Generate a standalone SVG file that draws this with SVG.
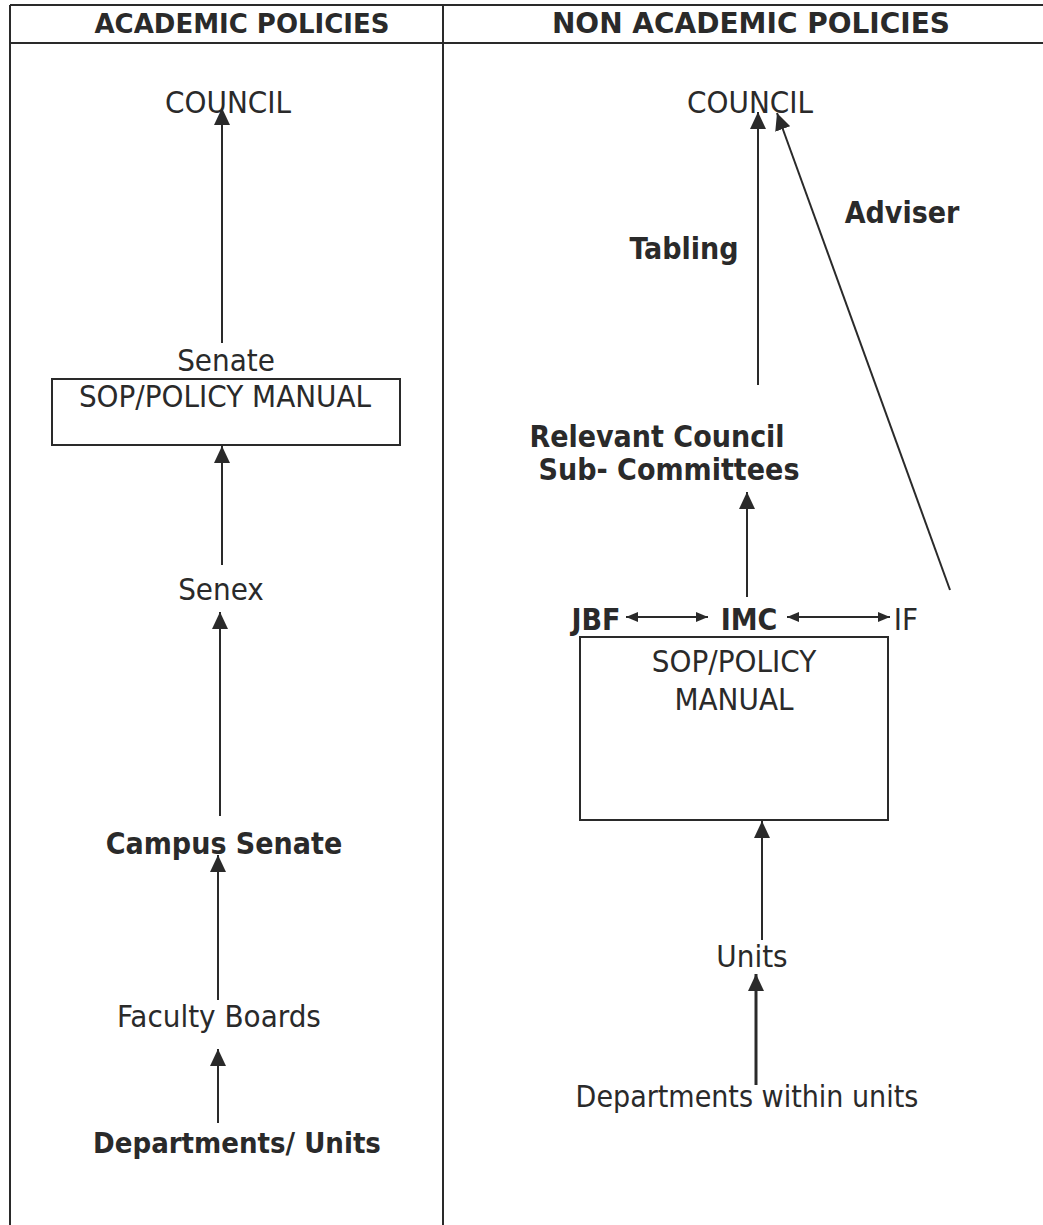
<svg xmlns="http://www.w3.org/2000/svg" width="1043" height="1225" viewBox="0 0 1043 1225">
<style>
.t{font-family:'DejaVu Sans Condensed','DejaVu Sans',sans-serif;font-stretch:condensed;font-size:31px;fill:#2a2a2a;text-anchor:middle}
.b{font-weight:bold;font-size:30px}
.h{font-family:'DejaVu Sans',sans-serif;font-stretch:normal;font-weight:bold;font-size:26px;fill:#2a2a2a;text-anchor:middle}
.ln{stroke:#2a2a2a;stroke-width:2;fill:none}
.ar{stroke:#2a2a2a;stroke-width:2;fill:none;marker-end:url(#ah)}
.da{stroke:#2a2a2a;stroke-width:2;fill:none;marker-start:url(#sm);marker-end:url(#sm)}
.bx{stroke:#2a2a2a;stroke-width:2;fill:#fff}
</style>
<defs>
<marker id="ah" viewBox="0 0 17 16" refX="17" refY="8" markerWidth="17" markerHeight="16" markerUnits="userSpaceOnUse" orient="auto"><path d="M0,0 L17,8 L0,16 z" fill="#2a2a2a"/></marker>
<marker id="sm" viewBox="0 0 12 10" refX="12" refY="5" markerWidth="12" markerHeight="10" markerUnits="userSpaceOnUse" orient="auto-start-reverse"><path d="M0,0 L12,5 L0,10 z" fill="#2a2a2a"/></marker>
</defs>
<g id="table">
<line class="ln" x1="10" y1="5" x2="1043" y2="5"/>
<line class="ln" x1="10" y1="43" x2="1043" y2="43"/>
<line class="ln" x1="10" y1="5" x2="10" y2="1225"/>
<line class="ln" x1="443" y1="5" x2="443" y2="1225"/>
<text class="h" x="242" y="33">ACADEMIC POLICIES</text>
<text class="h" x="751" y="33" style="font-size:28px">NON ACADEMIC POLICIES</text>
</g>
<g id="connectors">
<line class="ar" x1="222" y1="343" x2="222" y2="108"/>
<line class="ar" x1="222" y1="565" x2="222" y2="446"/>
<line class="ar" x1="220" y1="816" x2="220" y2="612"/>
<line class="ar" x1="218" y1="1000" x2="218" y2="855"/>
<line class="ar" x1="218" y1="1123" x2="218" y2="1049"/>
<line class="ar" x1="758" y1="385" x2="758" y2="112"/>
<line class="ar" x1="950" y1="590" x2="777" y2="113"/>
<line class="ar" x1="747" y1="597" x2="747" y2="492"/>
<line class="da" x1="626" y1="617" x2="708" y2="617"/>
<line class="da" x1="787" y1="617" x2="890" y2="617"/>
<line class="ar" x1="762" y1="940" x2="762" y2="821"/>
<line class="ar" x1="756" y1="1085" x2="756" y2="974" style="stroke-width:3"/>
</g>
<g id="council-left"><text class="t" x="228" y="113">COUNCIL</text></g>
<g id="senate"><text class="t" x="226" y="371">Senate</text>
<rect class="bx" x="52" y="379" width="348" height="66"/>
<text class="t" x="225" y="407">SOP/POLICY MANUAL</text></g>
<g id="senex"><text class="t" x="221" y="600">Senex</text></g>
<g id="campus-senate"><text class="t b" x="224" y="854">Campus Senate</text></g>
<g id="faculty-boards"><text class="t" x="219" y="1027">Faculty Boards</text></g>
<g id="departments-units"><text class="t b" x="237" y="1153" style="font-size:29px">Departments/ Units</text></g>
<g id="council-right"><text class="t" x="750" y="113">COUNCIL</text></g>
<g id="tabling"><text class="t b" x="684" y="259">Tabling</text></g>
<g id="adviser"><text class="t b" x="902" y="223">Adviser</text></g>
<g id="relevant"><text class="t b" x="657" y="447">Relevant Council</text>
<text class="t b" x="669" y="480">Sub- Committees</text></g>
<g id="jbf"><text class="t b" x="596" y="630">JBF</text></g>
<g id="imc"><text class="t b" x="749" y="630">IMC</text></g>
<g id="if"><text class="t" x="906" y="630">IF</text></g>
<g id="manual-right"><rect class="bx" x="580" y="637" width="308" height="183"/>
<text class="t" x="734" y="672">SOP/POLICY</text>
<text class="t" x="734" y="710">MANUAL</text></g>
<g id="units"><text class="t" x="752" y="967">Units</text></g>
<g id="departments-within"><text class="t" x="747" y="1107" style="font-size:30px">Departments within units</text></g>
</svg>
